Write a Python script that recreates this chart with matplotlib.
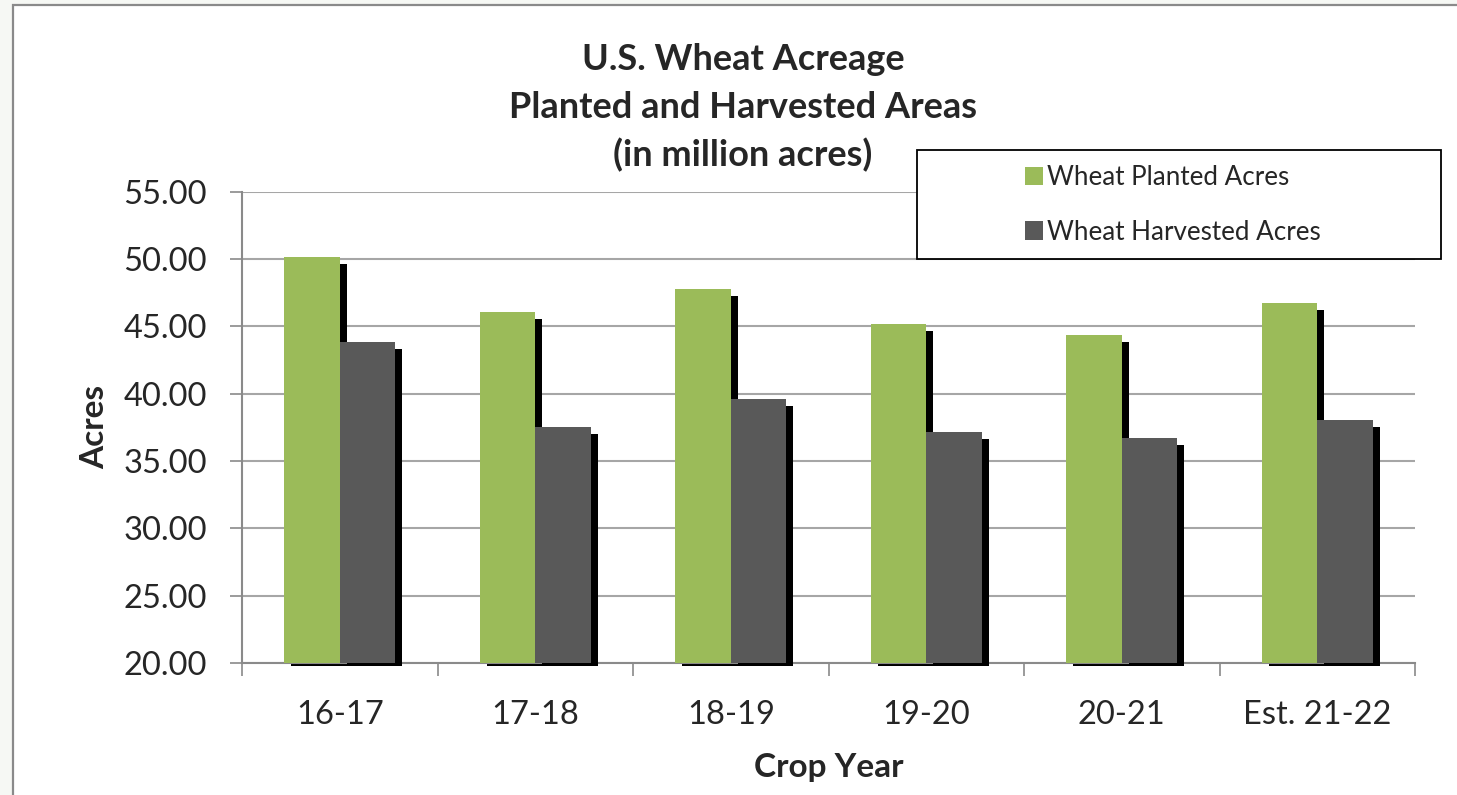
import matplotlib
matplotlib.use('Agg')
import matplotlib.pyplot as plt
import numpy as np
from matplotlib.patches import Rectangle
from matplotlib.ticker import FormatStrFormatter

years = ['16-17', '17-18', '18-19', '19-20', '20-21', 'Est. 21-22']
planted = [50.15, 46.05, 47.80, 45.16, 44.38, 46.72]
harvested = [43.87, 37.52, 39.61, 37.15, 36.68, 38.05]
title_lines = ['U.S. Wheat Acreage', 'Planted and Harvested Areas', '(in million acres)']

plt.rcParams['font.family'] = ['Lato', 'DejaVu Sans']
txt = '#262626'
green, grey = '#9bbb59', '#595959'

W, H = 1457, 795
fig = plt.figure(figsize=(W / 100, H / 100), dpi=100, facecolor='#f6f8f4')
fx = lambda px: px / W
fy = lambda py: 1 - py / H

# chart area frame (runs off the right/bottom edge)
fig.patches.append(Rectangle((fx(12.5), fy(900)), 1, fy(5.5) - fy(900),
                             transform=fig.transFigure, facecolor='white',
                             edgecolor='#8a8a8a', lw=1.6, zorder=-1))

ax = fig.add_axes([fx(242), fy(663), fx(1415) - fx(242), fy(191.7) - fy(663)])
ax.set_facecolor('none')

x = np.arange(len(years))
w = 0.285
sx = 7 / 195.6   # shadow offset, x data units
sy = 0.52        # shadow offset, y data units
base = 20
p = np.array(planted)
h = np.array(harvested)

ax.bar(x - w / 2 + sx, p - sy - (base - 0.25), bottom=base - 0.25, width=w,
       color='black', zorder=2, clip_on=False)
gbars = ax.bar(x - w / 2, p - base, bottom=base, width=w, color=green, zorder=3)
ax.bar(x + w / 2 + sx, h - sy - (base - 0.25), bottom=base - 0.25, width=w,
       color='black', zorder=4, clip_on=False)
hbars = ax.bar(x + w / 2, h - base, bottom=base, width=w, color=grey, zorder=5)

ax.set_xlim(-0.5, len(years) - 0.5)
ax.set_ylim(20, 55)
ax.set_yticks(np.arange(20, 56, 5))
ax.yaxis.set_major_formatter(FormatStrFormatter('%.2f'))
ax.set_axisbelow(True)
ax.yaxis.grid(True, color='#a6a6a6', lw=1.5)

ax.set_xticks(x)
ax.set_xticklabels(years)
ax.set_xticks(np.arange(-0.5, len(years)), minor=True)
ax.tick_params(axis='x', which='major', length=0, pad=27, labelsize=23.5, labelcolor=txt)
ax.tick_params(axis='x', which='minor', length=9.4, width=1.2, color='#8a8a8a')
ax.tick_params(axis='y', length=8.6, width=1.2, color='#8a8a8a', pad=16.5,
               labelsize=23.5, labelcolor=txt)

for s in ['top', 'right']:
    ax.spines[s].set_visible(False)
for s in ['left', 'bottom']:
    ax.spines[s].set_color('#8a8a8a')
    ax.spines[s].set_linewidth(1.5)

ax.set_ylabel('Acres', fontsize=24, fontweight='bold', color=txt)
ax.yaxis.label.set_va('center')
ax.yaxis.set_label_coords((95 - 242) / 1173, 0.5)
ax.set_xlabel('Crop Year', fontsize=24, fontweight='bold', color=txt)
ax.xaxis.label.set_va('center')
ax.xaxis.set_label_coords(0.5, (663 - 768) / 471.3)

for line, py in zip(title_lines, [60, 107, 155]):
    fig.text(fx(743), fy(py), line, ha='center', va='center', fontsize=26,
             fontweight='bold', color=txt)

# legend box
fig.patches.append(Rectangle((fx(917), fy(259)), fx(1441) - fx(917), fy(150) - fy(259),
                             transform=fig.transFigure, facecolor='white',
                             edgecolor='black', lw=1.3, zorder=1))
fig.legend([gbars, hbars], ['Wheat Planted Acres', 'Wheat Harvested Acres'],
           loc='center left', bbox_to_anchor=(fx(1012), fy(205)),
           bbox_transform=fig.transFigure, frameon=False, fontsize=18.7,
           handlelength=0.7, handleheight=0.7, handletextpad=0.15,
           labelspacing=1.12, labelcolor=txt, borderpad=0)

fig.savefig('out.png', dpi=100, facecolor=fig.get_facecolor())
